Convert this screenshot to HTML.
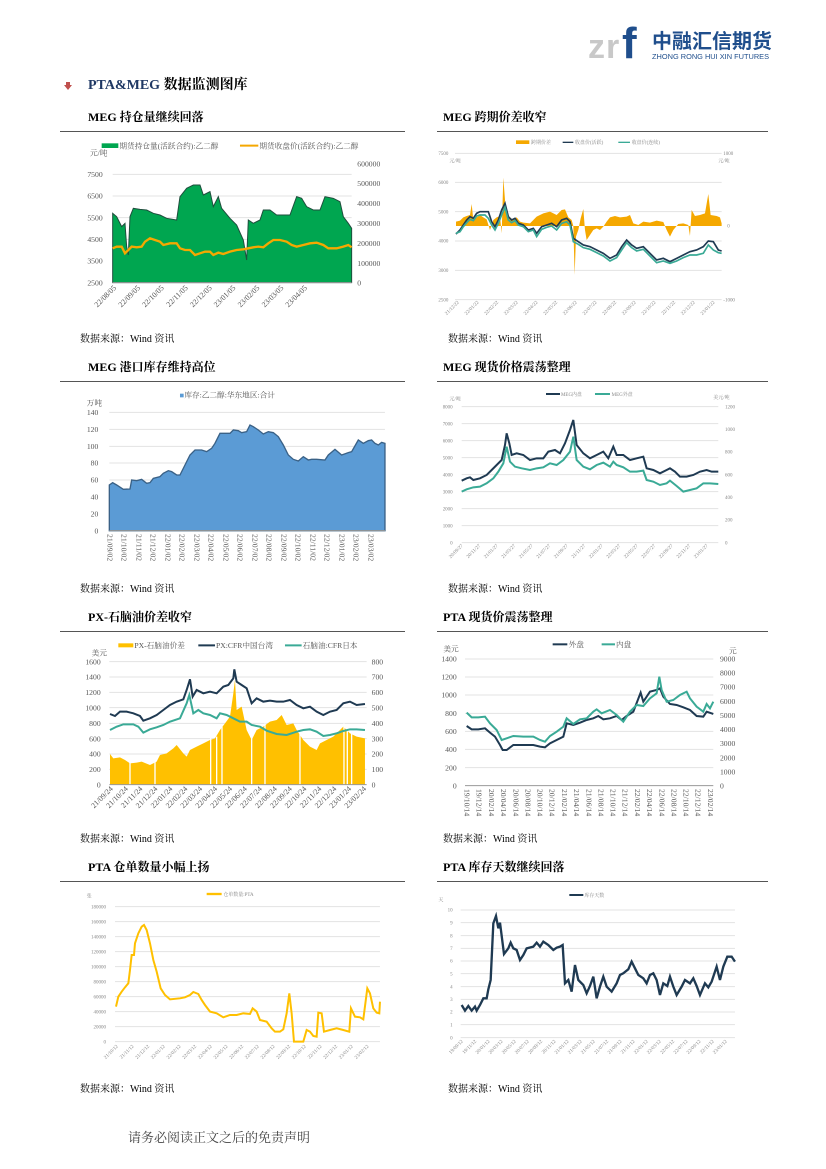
<!DOCTYPE html>
<html><head><meta charset="utf-8"><style>
html,body{margin:0;padding:0;background:#fff;}
svg{display:block;font-family:"Liberation Serif","Noto Serif CJK SC",serif;}
.t{font-weight:bold;font-size:12px;fill:#000;}
.src{font-size:10px;fill:#000;}
.g{stroke:#e3e3e3;stroke-width:3;}
.lb{font-size:23px;fill:#555;}
.sm{font-size:15px;fill:#888;}
</style></head><body>
<svg width="826" height="1169" viewBox="0 0 826 1169" xmlns="http://www.w3.org/2000/svg">
<!-- logo -->
<text x="588" y="58" font-family="Liberation Sans,sans-serif" font-size="34" font-weight="bold" fill="#c8c8c8">z</text>
<text x="606" y="58" font-family="Liberation Sans,sans-serif" font-size="34" font-weight="bold" fill="#c8c8c8">r</text>
<text x="622" y="58" font-family="Liberation Sans,sans-serif" font-size="44" font-weight="bold" fill="#1f4e8c">f</text>
<text x="652" y="48" font-family="Liberation Sans,'Noto Sans CJK SC',sans-serif" font-size="20" font-weight="bold" fill="#1f4e8c">中融汇信期货</text>
<text x="652" y="59" font-family="Liberation Sans,sans-serif" font-size="7.4" fill="#1f4e8c">ZHONG RONG HUI XIN FUTURES</text>
<!-- heading -->
<polygon points="66,82 70,82 70,85 72,85 68,90 64,85 66,85" fill="#c0504d"/>
<text x="88" y="89" font-size="14" font-weight="bold"><tspan fill="#1f3864">PTA&amp;MEG</tspan><tspan fill="#000"> 数据监测图库</tspan></text>
<!-- section titles -->
<text class="t" x="88" y="121">MEG 持仓量继续回落</text>
<text class="t" x="443" y="121">MEG 跨期价差收窄</text>
<text class="t" x="88" y="371">MEG 港口库存维持高位</text>
<text class="t" x="443" y="371">MEG 现货价格震荡整理</text>
<text class="t" x="88" y="621">PX-石脑油价差收窄</text>
<text class="t" x="443" y="621">PTA 现货价震荡整理</text>
<text class="t" x="88" y="871">PTA 仓单数量小幅上扬</text>
<text class="t" x="443" y="871">PTA 库存天数继续回落</text>
<g stroke="#555" stroke-width="1">
<line x1="60" y1="131.5" x2="405" y2="131.5"/><line x1="437" y1="131.5" x2="768" y2="131.5"/>
<line x1="60" y1="381.5" x2="405" y2="381.5"/><line x1="437" y1="381.5" x2="768" y2="381.5"/>
<line x1="60" y1="631.5" x2="405" y2="631.5"/><line x1="437" y1="631.5" x2="768" y2="631.5"/>
<line x1="60" y1="881.5" x2="405" y2="881.5"/><line x1="437" y1="881.5" x2="768" y2="881.5"/>
</g>
<text class="src" x="80" y="342">数据来源：Wind 资讯</text><text class="src" x="448" y="342">数据来源：Wind 资讯</text>
<text class="src" x="80" y="592">数据来源：Wind 资讯</text><text class="src" x="448" y="592">数据来源：Wind 资讯</text>
<text class="src" x="80" y="842">数据来源：Wind 资讯</text><text class="src" x="443" y="842">数据来源：Wind 资讯</text>
<text class="src" x="80" y="1092">数据来源：Wind 资讯</text><text class="src" x="448" y="1092">数据来源：Wind 资讯</text>
<text x="128" y="1142" font-size="13" fill="#444">请务必阅读正文之后的免责声明</text>

<!-- Chart 1 -->
<g transform="translate(70,130) scale(0.3333)">
<rect x="95" y="40" width="50" height="14" fill="#00a650"/>
<text class="lb" x="148" y="56">期货持仓量(活跃合约):乙二醇</text>
<line x1="510" y1="47" x2="565" y2="47" stroke="#f5a800" stroke-width="6"/>
<text class="lb" x="568" y="56">期货收盘价(活跃合约):乙二醇</text>
<text class="lb" x="60" y="76">元/吨</text>
<g class="g"><line x1="128" y1="133" x2="845" y2="133"/><line x1="128" y1="198" x2="845" y2="198"/><line x1="128" y1="263" x2="845" y2="263"/><line x1="128" y1="328" x2="845" y2="328"/><line x1="128" y1="393" x2="845" y2="393"/></g>
<g class="lb" text-anchor="end"><text x="98" y="141">7500</text><text x="98" y="206">6500</text><text x="98" y="271">5500</text><text x="98" y="336">4500</text><text x="98" y="401">3500</text><text x="98" y="466">2500</text></g>
<g class="lb"><text x="862" y="110">600000</text><text x="862" y="168">500000</text><text x="862" y="228">400000</text><text x="862" y="288">300000</text><text x="862" y="348">200000</text><text x="862" y="408">100000</text><text x="862" y="466">0</text></g>
<polygon fill="#00a650" stroke="#1f4e3d" stroke-width="3" points="128,458 128,250 140,260 155,290 160,285 165,280 170,350 175,375 180,260 190,235 210,238 230,240 250,250 270,255 290,265 320,270 330,200 350,175 370,165 390,165 400,195 420,185 430,230 445,200 455,235 480,265 500,285 520,330 530,390 535,270 550,280 570,270 580,240 600,240 620,255 660,255 680,200 695,205 710,230 730,240 750,240 765,200 790,205 810,215 820,260 835,280 845,295 845,458"/>
<polyline fill="none" stroke="#f5a800" stroke-width="7" points="128,355 140,350 155,350 165,370 175,360 185,350 200,352 215,350 225,335 240,325 255,330 270,335 280,345 300,340 320,340 330,355 345,360 360,360 375,375 390,370 405,365 420,365 430,375 445,368 460,372 480,365 500,360 520,358 535,355 550,352 565,350 580,352 595,340 610,330 630,330 650,335 665,345 680,350 700,345 720,340 740,338 760,345 775,355 800,355 820,350 835,345 845,352"/>
<line x1="128" y1="458" x2="845" y2="458" stroke="#999" stroke-width="3"/>
<g class="lb" text-anchor="end">
<text transform="translate(140,475) rotate(-45)">22/08/05</text><text transform="translate(212,475) rotate(-45)">22/09/05</text><text transform="translate(283,475) rotate(-45)">22/10/05</text><text transform="translate(355,475) rotate(-45)">22/11/05</text><text transform="translate(427,475) rotate(-45)">22/12/05</text><text transform="translate(498,475) rotate(-45)">23/01/05</text><text transform="translate(570,475) rotate(-45)">23/02/05</text><text transform="translate(642,475) rotate(-45)">23/03/05</text><text transform="translate(713,475) rotate(-45)">23/04/05</text>
</g>
</g>

<!-- Chart 2 -->
<g transform="translate(430,130) scale(0.3333)">
<rect x="258" y="31" width="40" height="11" fill="#f5a800"/><text class="sm" x="303" y="42">跨期价差</text>
<line x1="398" y1="37" x2="430" y2="37" stroke="#1f3a52" stroke-width="4"/><text class="sm" x="435" y="42">收盘价(活跃)</text>
<line x1="565" y1="37" x2="600" y2="37" stroke="#3aaa96" stroke-width="4"/><text class="sm" x="605" y="42">收盘价(连续)</text>
<g class="g"><line x1="75" y1="70" x2="875" y2="70"/><line x1="75" y1="157" x2="875" y2="157"/><line x1="75" y1="245" x2="875" y2="245"/><line x1="75" y1="333" x2="875" y2="333"/><line x1="75" y1="421" x2="875" y2="421"/><line x1="75" y1="509" x2="875" y2="509"/></g>
<g class="sm" text-anchor="end"><text x="55" y="75">7500</text><text x="55" y="162">6000</text><text x="55" y="250">5000</text><text x="55" y="338">4000</text><text x="55" y="426">3000</text><text x="55" y="514">2500</text></g>
<text class="sm" x="58" y="97">元/吨</text><text class="sm" x="880" y="75">1000</text><text class="sm" x="865" y="97">元/吨</text><text class="sm" x="892" y="293">0</text><text class="sm" x="880" y="514">-1000</text>
<polygon fill="#f5a800" points="78,288 78,275 90,272 100,262 110,258 120,255 125,222 130,270 140,262 150,255 160,262 170,268 180,300 190,270 200,262 210,258 215,310 220,143 225,210 230,250 240,262 250,270 260,262 270,275 280,278 300,280 320,260 340,250 360,245 380,255 395,240 405,238 415,262 425,270 430,288 434,435 438,320 445,300 452,265 460,237 465,300 470,330 480,315 490,300 500,295 510,300 520,290 530,275 540,262 555,258 570,262 590,260 600,255 610,280 625,285 640,275 660,278 680,272 700,276 710,300 720,320 730,300 745,282 760,280 775,285 780,318 785,240 795,258 810,255 825,250 835,192 842,255 860,258 870,262 875,280 875,288"/>
<polyline fill="none" stroke="#1f3a52" stroke-width="5" points="78,312 90,300 100,285 110,270 120,260 130,265 140,250 150,245 165,245 175,245 185,275 195,290 205,270 215,240 225,220 235,260 245,270 255,265 265,280 280,285 295,300 310,295 320,310 335,290 350,285 365,280 380,290 395,270 410,265 420,275 430,325 445,335 460,345 480,350 500,360 520,370 540,385 560,375 575,350 590,330 605,345 620,355 640,350 660,370 680,390 700,385 720,395 740,385 760,375 780,365 800,360 820,350 835,333 850,335 865,360 875,363"/>
<polyline fill="none" stroke="#3aaa96" stroke-width="5" points="78,310 90,305 100,290 110,278 120,268 130,272 140,258 150,255 165,255 175,265 185,285 195,300 205,280 215,255 225,232 235,270 245,278 255,272 265,285 280,290 295,305 310,300 320,320 335,298 350,292 365,288 380,300 395,280 410,275 420,285 430,335 445,343 460,353 480,358 500,368 520,378 540,393 560,383 575,360 590,338 605,353 620,363 640,358 660,378 680,398 700,393 720,400 740,393 760,383 780,375 800,375 820,370 835,345 850,360 865,368 875,370"/>
<g class="sm" text-anchor="end">
<text transform="translate(88,518) rotate(-45)">21/12/22</text><text transform="translate(147,518) rotate(-45)">22/01/22</text><text transform="translate(206,518) rotate(-45)">22/02/22</text><text transform="translate(265,518) rotate(-45)">22/03/22</text><text transform="translate(324,518) rotate(-45)">22/04/22</text><text transform="translate(383,518) rotate(-45)">22/05/22</text><text transform="translate(442,518) rotate(-45)">22/06/22</text><text transform="translate(501,518) rotate(-45)">22/07/22</text><text transform="translate(560,518) rotate(-45)">22/08/22</text><text transform="translate(619,518) rotate(-45)">22/09/22</text><text transform="translate(678,518) rotate(-45)">22/10/22</text><text transform="translate(737,518) rotate(-45)">22/11/22</text><text transform="translate(796,518) rotate(-45)">22/12/22</text><text transform="translate(855,518) rotate(-45)">23/01/22</text>
</g>
</g>

<!-- Chart 3 -->
<g transform="translate(70,380) scale(0.3333)">
<rect x="330" y="41" width="11" height="11" fill="#5b9bd5"/><text class="lb" x="343" y="53">库存:乙二醇:华东地区:合计</text>
<text class="lb" x="50" y="77">万吨</text>
<g class="g"><line x1="118" y1="97" x2="945" y2="97"/><line x1="118" y1="148" x2="945" y2="148"/><line x1="118" y1="199" x2="945" y2="199"/><line x1="118" y1="249" x2="945" y2="249"/><line x1="118" y1="300" x2="945" y2="300"/><line x1="118" y1="350" x2="945" y2="350"/><line x1="118" y1="401" x2="945" y2="401"/></g>
<g class="lb" text-anchor="end"><text x="85" y="105">140</text><text x="85" y="156">120</text><text x="85" y="207">100</text><text x="85" y="257">80</text><text x="85" y="308">60</text><text x="85" y="358">40</text><text x="85" y="409">20</text><text x="85" y="460">0</text></g>
<polygon fill="#5b9bd5" stroke="#3a6186" stroke-width="4" points="118,452 118,315 128,308 140,315 160,328 180,327 185,300 200,302 215,298 230,310 240,308 250,295 270,290 280,280 295,272 305,275 320,285 330,285 345,255 360,225 375,210 395,210 410,215 425,205 435,190 450,160 465,160 480,160 490,150 505,152 515,158 530,155 540,135 550,140 565,150 580,162 595,155 610,158 625,170 640,195 655,225 670,238 685,243 700,230 715,240 725,238 740,238 765,240 775,225 795,208 815,225 835,218 845,215 865,180 880,190 895,182 905,180 915,190 925,195 935,187 945,190 945,452"/>
<line x1="118" y1="452" x2="945" y2="452" stroke="#999" stroke-width="3"/>
<g class="lb">
<text transform="translate(112,462) rotate(90)">21/09/02</text><text transform="translate(155,462) rotate(90)">21/10/02</text><text transform="translate(199,462) rotate(90)">21/11/02</text><text transform="translate(242,462) rotate(90)">21/12/02</text><text transform="translate(286,462) rotate(90)">22/01/02</text><text transform="translate(329,462) rotate(90)">22/02/02</text><text transform="translate(373,462) rotate(90)">22/03/02</text><text transform="translate(416,462) rotate(90)">22/04/02</text><text transform="translate(460,462) rotate(90)">22/05/02</text><text transform="translate(503,462) rotate(90)">22/06/02</text><text transform="translate(547,462) rotate(90)">22/07/02</text><text transform="translate(590,462) rotate(90)">22/08/02</text><text transform="translate(634,462) rotate(90)">22/09/02</text><text transform="translate(677,462) rotate(90)">22/10/02</text><text transform="translate(721,462) rotate(90)">22/11/02</text><text transform="translate(764,462) rotate(90)">22/12/02</text><text transform="translate(808,462) rotate(90)">23/01/02</text><text transform="translate(851,462) rotate(90)">23/02/02</text><text transform="translate(895,462) rotate(90)">23/03/02</text>
</g>
</g>

<!-- Chart 4 -->
<g transform="translate(430,380) scale(0.3333)">
<line x1="348" y1="42" x2="390" y2="42" stroke="#1f3a52" stroke-width="6"/><text class="sm" x="393" y="48">MEG内盘</text>
<line x1="495" y1="42" x2="540" y2="42" stroke="#3aaa96" stroke-width="6"/><text class="sm" x="545" y="48">MEG外盘</text>
<text class="sm" x="58" y="62">元/吨</text><text class="sm" x="850" y="57">美元/吨</text>
<g class="g"><line x1="95" y1="80" x2="865" y2="80"/><line x1="95" y1="131" x2="865" y2="131"/><line x1="95" y1="182" x2="865" y2="182"/><line x1="95" y1="233" x2="865" y2="233"/><line x1="95" y1="284" x2="865" y2="284"/><line x1="95" y1="335" x2="865" y2="335"/><line x1="95" y1="386" x2="865" y2="386"/><line x1="95" y1="437" x2="865" y2="437"/><line x1="95" y1="488" x2="865" y2="488"/></g>
<g class="sm" text-anchor="end"><text x="68" y="85">8000</text><text x="68" y="136">7000</text><text x="68" y="187">6000</text><text x="68" y="238">5000</text><text x="68" y="289">4000</text><text x="68" y="340">3000</text><text x="68" y="391">2000</text><text x="68" y="442">1000</text><text x="68" y="493">0</text></g>
<g class="sm"><text x="885" y="85">1200</text><text x="885" y="153">1000</text><text x="885" y="221">800</text><text x="885" y="289">600</text><text x="885" y="357">400</text><text x="885" y="425">200</text><text x="885" y="493">0</text></g>
<polyline fill="none" stroke="#1f3a52" stroke-width="6" points="95,302 110,295 120,292 130,300 150,295 170,285 185,270 200,255 215,240 225,195 230,160 238,190 245,225 260,220 280,225 300,240 320,235 340,235 355,215 375,210 390,220 405,190 420,150 430,120 440,195 460,220 480,235 500,225 520,215 535,235 550,200 560,225 580,225 600,240 620,235 640,230 650,265 670,270 690,280 710,270 720,265 735,275 750,290 770,290 790,285 810,275 830,270 845,275 865,275"/>
<polyline fill="none" stroke="#3aaa96" stroke-width="6" points="95,335 110,328 130,322 150,320 170,310 190,295 205,275 220,250 230,200 240,245 255,260 275,265 300,270 320,265 340,262 360,250 380,255 400,240 420,215 430,170 440,240 460,260 480,268 500,255 520,248 540,260 550,245 560,255 580,262 600,275 620,275 640,272 650,300 670,305 690,315 710,310 720,302 740,318 760,335 780,330 800,325 820,310 840,310 865,312"/>
<g class="sm" text-anchor="end">
<text transform="translate(100,498) rotate(-45)">20/09/27</text><text transform="translate(152,498) rotate(-45)">20/11/27</text><text transform="translate(205,498) rotate(-45)">21/01/27</text><text transform="translate(257,498) rotate(-45)">21/03/27</text><text transform="translate(310,498) rotate(-45)">21/05/27</text><text transform="translate(362,498) rotate(-45)">21/07/27</text><text transform="translate(415,498) rotate(-45)">21/09/27</text><text transform="translate(467,498) rotate(-45)">21/11/27</text><text transform="translate(520,498) rotate(-45)">22/01/27</text><text transform="translate(572,498) rotate(-45)">22/03/27</text><text transform="translate(625,498) rotate(-45)">22/05/27</text><text transform="translate(677,498) rotate(-45)">22/07/27</text><text transform="translate(730,498) rotate(-45)">22/09/27</text><text transform="translate(782,498) rotate(-45)">22/11/27</text><text transform="translate(835,498) rotate(-45)">23/01/27</text>
</g>
</g>

<!-- Chart 5 -->
<g transform="translate(70,630) scale(0.3333)">
<rect x="145" y="40" width="45" height="12" fill="#ffc000"/><text class="lb" x="193" y="54">PX-石脑油价差</text>
<line x1="385" y1="46" x2="435" y2="46" stroke="#1f3a52" stroke-width="6"/><text class="lb" x="438" y="54">PX:CFR中国台湾</text>
<line x1="645" y1="46" x2="695" y2="46" stroke="#3aaa96" stroke-width="6"/><text class="lb" x="698" y="54">石脑油:CFR日本</text>
<text class="lb" x="65" y="77">美元</text>
<g class="g"><line x1="118" y1="95" x2="890" y2="95"/><line x1="118" y1="141" x2="890" y2="141"/><line x1="118" y1="187" x2="890" y2="187"/><line x1="118" y1="233" x2="890" y2="233"/><line x1="118" y1="280" x2="890" y2="280"/><line x1="118" y1="326" x2="890" y2="326"/><line x1="118" y1="372" x2="890" y2="372"/><line x1="118" y1="418" x2="890" y2="418"/></g>
<g class="lb" text-anchor="end"><text x="92" y="103">1600</text><text x="92" y="149">1400</text><text x="92" y="195">1200</text><text x="92" y="241">1000</text><text x="92" y="288">800</text><text x="92" y="334">600</text><text x="92" y="380">400</text><text x="92" y="426">200</text><text x="92" y="472">0</text></g>
<g class="lb"><text x="905" y="103">800</text><text x="905" y="149">700</text><text x="905" y="195">600</text><text x="905" y="241">500</text><text x="905" y="288">400</text><text x="905" y="334">300</text><text x="905" y="380">200</text><text x="905" y="426">100</text><text x="905" y="472">0</text></g>
<polygon fill="#ffc000" points="120,464 120,372 130,385 150,382 165,390 180,400 200,398 215,395 240,405 260,395 270,375 290,370 310,355 320,345 340,370 350,380 360,360 380,350 400,340 420,330 435,325 450,300 465,280 480,260 490,190 495,150 500,240 515,230 530,300 545,330 560,300 580,290 600,275 620,270 635,255 650,285 670,280 680,300 700,330 720,350 740,360 750,340 770,330 790,320 800,310 820,290 840,310 860,320 885,325 885,464"/>
<g stroke="#fff" stroke-width="4"><line x1="180" y1="380" x2="180" y2="464"/><line x1="255" y1="380" x2="255" y2="464"/><line x1="422" y1="320" x2="422" y2="464"/><line x1="440" y1="320" x2="440" y2="464"/><line x1="456" y1="290" x2="456" y2="464"/><line x1="545" y1="320" x2="545" y2="464"/><line x1="585" y1="280" x2="585" y2="464"/><line x1="690" y1="300" x2="690" y2="464"/><line x1="822" y1="280" x2="822" y2="464"/><line x1="832" y1="290" x2="832" y2="464"/><line x1="845" y1="300" x2="845" y2="464"/></g>
<polyline fill="none" stroke="#1f3a52" stroke-width="6" points="120,252 135,258 150,245 170,245 190,250 210,258 220,272 240,265 260,255 280,240 300,225 320,215 340,208 350,180 360,148 368,200 380,180 400,190 420,185 440,190 460,170 475,165 490,145 493,118 500,155 515,165 530,175 545,220 560,205 580,215 600,212 620,215 640,215 660,210 680,225 700,235 720,230 740,245 760,255 780,245 800,240 820,220 840,215 860,225 885,222"/>
<polyline fill="none" stroke="#3aaa96" stroke-width="6" points="120,300 140,290 160,283 190,283 205,290 220,308 240,298 260,292 280,285 300,275 330,265 350,220 358,195 370,250 385,240 400,250 420,255 440,265 450,250 470,255 490,265 510,275 530,275 545,285 570,290 590,302 620,312 650,315 680,305 700,300 720,298 740,305 760,318 780,315 800,310 820,303 840,298 860,298 885,300"/>
<line x1="118" y1="464" x2="890" y2="464" stroke="#999" stroke-width="3"/>
<g class="lb" text-anchor="end">
<text transform="translate(130,478) rotate(-45)">21/09/24</text><text transform="translate(175,478) rotate(-45)">21/10/24</text><text transform="translate(219,478) rotate(-45)">21/11/24</text><text transform="translate(264,478) rotate(-45)">21/12/24</text><text transform="translate(309,478) rotate(-45)">22/01/24</text><text transform="translate(354,478) rotate(-45)">22/02/24</text><text transform="translate(398,478) rotate(-45)">22/03/24</text><text transform="translate(443,478) rotate(-45)">22/04/24</text><text transform="translate(488,478) rotate(-45)">22/05/24</text><text transform="translate(532,478) rotate(-45)">22/06/24</text><text transform="translate(577,478) rotate(-45)">22/07/24</text><text transform="translate(622,478) rotate(-45)">22/08/24</text><text transform="translate(667,478) rotate(-45)">22/09/24</text><text transform="translate(711,478) rotate(-45)">22/10/24</text><text transform="translate(756,478) rotate(-45)">22/11/24</text><text transform="translate(801,478) rotate(-45)">22/12/24</text><text transform="translate(845,478) rotate(-45)">23/01/24</text><text transform="translate(890,478) rotate(-45)">23/02/24</text>
</g>
</g>

<!-- Chart 6 -->
<g transform="translate(430,630) scale(0.3333)">
<line x1="368" y1="43" x2="412" y2="43" stroke="#1f3a52" stroke-width="6"/><text class="lb" x="416" y="51">外盘</text>
<line x1="515" y1="43" x2="555" y2="43" stroke="#3aaa96" stroke-width="6"/><text class="lb" x="558" y="51">内盘</text>
<text class="lb" x="40" y="64">美元</text><text class="lb" x="897" y="70">元</text>
<g class="g"><line x1="105" y1="87" x2="850" y2="87"/><line x1="105" y1="141" x2="850" y2="141"/><line x1="105" y1="195" x2="850" y2="195"/><line x1="105" y1="250" x2="850" y2="250"/><line x1="105" y1="304" x2="850" y2="304"/><line x1="105" y1="358" x2="850" y2="358"/><line x1="105" y1="413" x2="850" y2="413"/></g>
<g class="lb" text-anchor="end"><text x="80" y="95">1400</text><text x="80" y="149">1200</text><text x="80" y="203">1000</text><text x="80" y="258">800</text><text x="80" y="312">600</text><text x="80" y="366">400</text><text x="80" y="421">200</text><text x="80" y="475">0</text></g>
<g class="lb"><text x="870" y="95">9000</text><text x="870" y="137">8000</text><text x="870" y="179">7000</text><text x="870" y="222">6000</text><text x="870" y="264">5000</text><text x="870" y="306">4000</text><text x="870" y="348">3000</text><text x="870" y="391">2000</text><text x="870" y="433">1000</text><text x="870" y="475">0</text></g>
<polyline fill="none" stroke="#1f3a52" stroke-width="6" points="110,288 125,298 145,298 165,295 180,308 195,320 210,345 218,360 230,360 250,345 270,345 290,345 310,345 330,350 345,352 360,340 380,330 400,320 410,280 430,285 450,278 470,270 490,265 505,258 520,268 540,265 560,258 575,270 590,258 610,245 632,188 640,215 660,185 680,180 690,175 700,200 720,222 740,225 760,232 780,240 800,258 820,260 830,245 850,252"/>
<polyline fill="none" stroke="#3aaa96" stroke-width="6" points="110,248 125,262 145,262 165,260 180,280 200,300 215,330 230,325 250,318 280,320 310,320 330,330 345,335 360,318 380,305 400,290 410,265 430,282 450,268 470,265 490,245 500,238 515,250 540,240 560,255 580,275 600,245 620,225 640,228 660,205 680,190 688,140 695,180 710,215 730,210 750,195 770,185 780,205 800,230 820,245 830,222 840,235 850,215"/>
<line x1="105" y1="467" x2="850" y2="467" stroke="#999" stroke-width="3"/>
<g class="lb">
<text transform="translate(104,477) rotate(90)">19/10/14</text><text transform="translate(140,477) rotate(90)">19/12/14</text><text transform="translate(177,477) rotate(90)">20/02/14</text><text transform="translate(213,477) rotate(90)">20/04/14</text><text transform="translate(250,477) rotate(90)">20/06/14</text><text transform="translate(286,477) rotate(90)">20/08/14</text><text transform="translate(323,477) rotate(90)">20/10/14</text><text transform="translate(359,477) rotate(90)">20/12/14</text><text transform="translate(396,477) rotate(90)">21/02/14</text><text transform="translate(432,477) rotate(90)">21/04/14</text><text transform="translate(469,477) rotate(90)">21/06/14</text><text transform="translate(505,477) rotate(90)">21/08/14</text><text transform="translate(542,477) rotate(90)">21/10/14</text><text transform="translate(578,477) rotate(90)">21/12/14</text><text transform="translate(615,477) rotate(90)">22/02/14</text><text transform="translate(651,477) rotate(90)">22/04/14</text><text transform="translate(688,477) rotate(90)">22/06/14</text><text transform="translate(724,477) rotate(90)">22/08/14</text><text transform="translate(761,477) rotate(90)">22/10/14</text><text transform="translate(797,477) rotate(90)">22/12/14</text><text transform="translate(834,477) rotate(90)">23/02/14</text>
</g>
</g>

<!-- Chart 7 -->
<g transform="translate(70,880) scale(0.3333)">
<line x1="410" y1="42" x2="455" y2="42" stroke="#ffc000" stroke-width="7"/><text class="sm" x="460" y="48">仓单数量:PTA</text>
<text class="sm" x="50" y="52">张</text>
<g class="g"><line x1="135" y1="80" x2="930" y2="80"/><line x1="135" y1="125" x2="930" y2="125"/><line x1="135" y1="170" x2="930" y2="170"/><line x1="135" y1="215" x2="930" y2="215"/><line x1="135" y1="260" x2="930" y2="260"/><line x1="135" y1="305" x2="930" y2="305"/><line x1="135" y1="350" x2="930" y2="350"/><line x1="135" y1="395" x2="930" y2="395"/><line x1="135" y1="440" x2="930" y2="440"/><line x1="135" y1="485" x2="930" y2="485"/></g>
<g class="sm" text-anchor="end"><text x="108" y="85">180000</text><text x="108" y="130">160000</text><text x="108" y="175">140000</text><text x="108" y="220">120000</text><text x="108" y="265">100000</text><text x="108" y="310">80000</text><text x="108" y="355">60000</text><text x="108" y="400">40000</text><text x="108" y="445">20000</text><text x="108" y="490">0</text></g>
<polyline fill="none" stroke="#ffc000" stroke-width="6" points="138,380 145,350 155,335 165,322 175,310 180,270 185,225 192,225 195,190 205,160 215,140 222,135 230,150 240,190 250,240 260,275 272,325 285,345 300,358 330,355 345,352 360,345 370,336 385,342 395,360 405,375 420,395 440,400 460,412 480,405 500,405 520,400 540,402 548,385 560,395 570,420 590,425 605,445 615,455 630,455 640,448 650,400 658,340 665,400 672,485 700,485 710,450 720,455 730,468 740,470 745,398 755,400 762,455 780,450 800,445 820,450 838,455 843,385 855,410 870,412 880,418 892,325 900,340 910,385 920,398 928,400 930,365"/>
<g class="sm" text-anchor="end">
<text transform="translate(145,500) rotate(-45)">21/10/12</text><text transform="translate(192,500) rotate(-45)">21/11/12</text><text transform="translate(239,500) rotate(-45)">21/12/12</text><text transform="translate(286,500) rotate(-45)">22/01/12</text><text transform="translate(333,500) rotate(-45)">22/02/12</text><text transform="translate(380,500) rotate(-45)">22/03/12</text><text transform="translate(427,500) rotate(-45)">22/04/12</text><text transform="translate(474,500) rotate(-45)">22/05/12</text><text transform="translate(521,500) rotate(-45)">22/06/12</text><text transform="translate(568,500) rotate(-45)">22/07/12</text><text transform="translate(615,500) rotate(-45)">22/08/12</text><text transform="translate(662,500) rotate(-45)">22/09/12</text><text transform="translate(709,500) rotate(-45)">22/10/12</text><text transform="translate(756,500) rotate(-45)">22/11/12</text><text transform="translate(803,500) rotate(-45)">22/12/12</text><text transform="translate(850,500) rotate(-45)">23/01/12</text><text transform="translate(897,500) rotate(-45)">23/02/12</text>
</g>
</g>

<!-- Chart 8 -->
<g transform="translate(430,880) scale(0.3333)">
<line x1="418" y1="45" x2="460" y2="45" stroke="#1f3a52" stroke-width="6"/><text class="sm" x="463" y="51">库存天数</text>
<text class="sm" x="25" y="64">天</text>
<g class="g"><line x1="92" y1="90" x2="915" y2="90"/><line x1="92" y1="128" x2="915" y2="128"/><line x1="92" y1="167" x2="915" y2="167"/><line x1="92" y1="205" x2="915" y2="205"/><line x1="92" y1="243" x2="915" y2="243"/><line x1="92" y1="281" x2="915" y2="281"/><line x1="92" y1="320" x2="915" y2="320"/><line x1="92" y1="358" x2="915" y2="358"/><line x1="92" y1="396" x2="915" y2="396"/><line x1="92" y1="434" x2="915" y2="434"/><line x1="92" y1="473" x2="915" y2="473"/></g>
<g class="sm" text-anchor="end"><text x="68" y="95">10</text><text x="68" y="133">9</text><text x="68" y="172">8</text><text x="68" y="210">7</text><text x="68" y="248">6</text><text x="68" y="286">5</text><text x="68" y="325">4</text><text x="68" y="363">3</text><text x="68" y="401">2</text><text x="68" y="439">1</text><text x="68" y="478">0</text></g>
<polyline fill="none" stroke="#1f3a52" stroke-width="7" points="95,375 105,392 115,378 125,392 135,380 140,392 150,375 160,355 170,355 175,328 182,300 190,130 198,108 205,145 210,128 222,222 235,205 242,188 250,205 260,210 270,240 280,225 290,205 310,200 320,188 330,200 340,185 355,195 370,210 380,203 390,200 398,195 405,310 415,300 425,335 435,255 445,300 460,315 470,340 480,318 490,290 500,355 510,320 520,290 530,320 545,335 560,310 570,285 580,280 595,268 605,245 615,265 625,285 640,295 650,310 660,285 670,280 680,300 690,345 700,310 712,318 720,290 730,320 740,345 755,320 765,300 780,310 790,295 800,318 810,345 825,310 835,322 845,305 860,260 870,300 880,260 892,230 905,230 915,245"/>
<g class="sm" text-anchor="end">
<text transform="translate(100,485) rotate(-45)">19/09/12</text><text transform="translate(140,485) rotate(-45)">19/11/12</text><text transform="translate(180,485) rotate(-45)">20/01/12</text><text transform="translate(219,485) rotate(-45)">20/03/12</text><text transform="translate(259,485) rotate(-45)">20/05/12</text><text transform="translate(298,485) rotate(-45)">20/07/12</text><text transform="translate(338,485) rotate(-45)">20/09/12</text><text transform="translate(378,485) rotate(-45)">20/11/12</text><text transform="translate(417,485) rotate(-45)">21/01/12</text><text transform="translate(457,485) rotate(-45)">21/03/12</text><text transform="translate(496,485) rotate(-45)">21/05/12</text><text transform="translate(536,485) rotate(-45)">21/07/12</text><text transform="translate(576,485) rotate(-45)">21/09/12</text><text transform="translate(615,485) rotate(-45)">21/11/12</text><text transform="translate(655,485) rotate(-45)">22/01/12</text><text transform="translate(694,485) rotate(-45)">22/03/12</text><text transform="translate(734,485) rotate(-45)">22/05/12</text><text transform="translate(774,485) rotate(-45)">22/07/12</text><text transform="translate(813,485) rotate(-45)">22/09/12</text><text transform="translate(853,485) rotate(-45)">22/11/12</text><text transform="translate(892,485) rotate(-45)">23/01/12</text>
</g>
</g>
</svg>
</body></html>
